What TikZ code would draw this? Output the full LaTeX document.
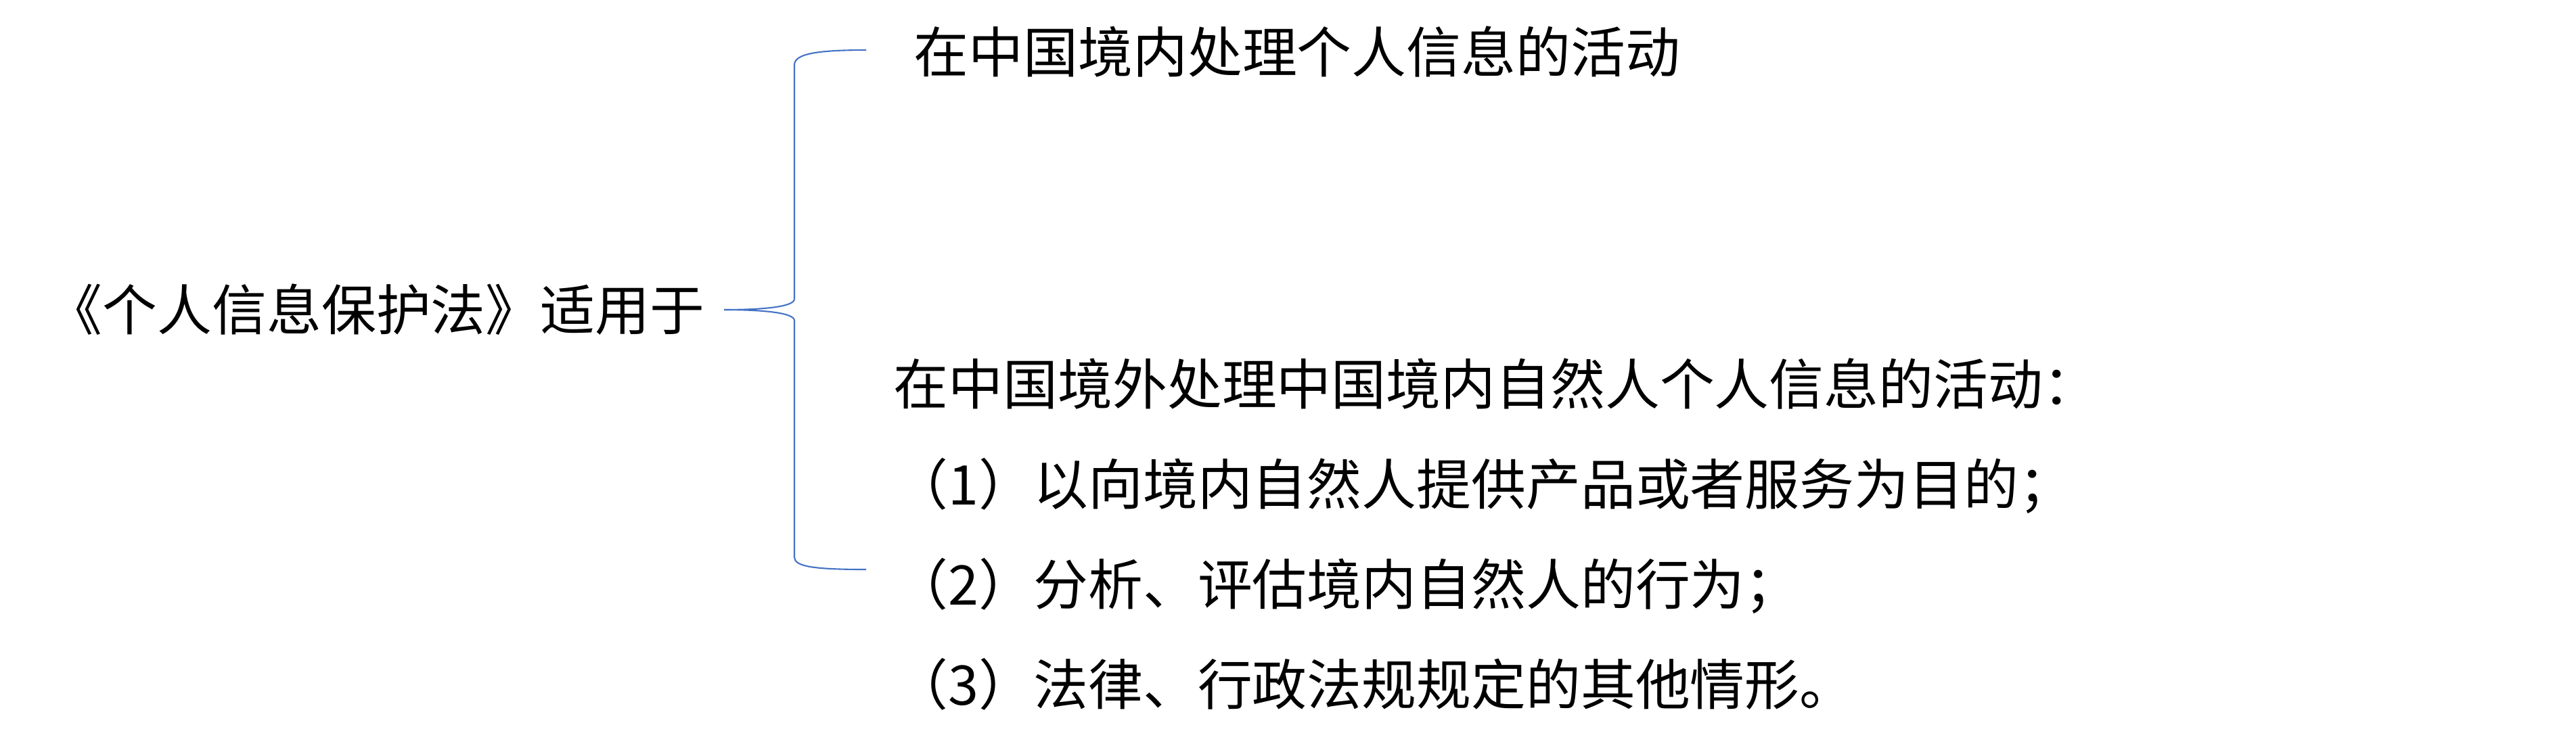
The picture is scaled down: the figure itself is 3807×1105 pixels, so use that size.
\documentclass[tikz,border=0pt]{standalone}
\usepackage{fontspec}
\newfontfamily\cjk{Noto Sans CJK SC}
\definecolor{bracecolor}{RGB}{68,114,196}
\tikzset{
  lawtext/.style = {font = \cjk\fontsize{23pt}{42pt}\selectfont, inner sep = 0pt, anchor = west},
  bracepath/.style = {draw = bracecolor, line width = 0.6pt}
}
\begin{document}
\begin{tikzpicture}[x = 0.01cm, y = -0.01cm]
\useasboundingbox (0,0) rectangle (3807,1105);
\pgfmathsetmacro\bracex{1174};
\pgfmathsetmacro\tipy{458};
\node[lawtext] (law) at (70,\tipy) {《个人信息保护法》适用于};
\node[lawtext] (inside) at (1350,76) {在中国境内处理个人信息的活动};
\node[lawtext, align = left] (outside) at (1320,790) {在中国境外处理中国境内自然人个人信息的活动：\\（1）以向境内自然人提供产品或者服务为目的；\\（2）分析、评估境内自然人的行为；\\（3）法律、行政法规规定的其他情形。};
\coordinate (tip) at (1070,\tipy);
\coordinate (top end) at (1280,74);
\coordinate (bottom end) at (1280,842);
\draw[bracepath] (top end) .. controls (1205,74) and (\bracex,80) .. (\bracex,96) -- (\bracex,\tipy-16) .. controls (\bracex,\tipy-4) and (1125,\tipy) .. (tip);
\draw[bracepath] (tip) .. controls (1125,\tipy) and (\bracex,\tipy+4) .. (\bracex,\tipy+16) -- (\bracex,824) .. controls (\bracex,838) and (1205,842) .. (bottom end);
\end{tikzpicture}
\end{document}
